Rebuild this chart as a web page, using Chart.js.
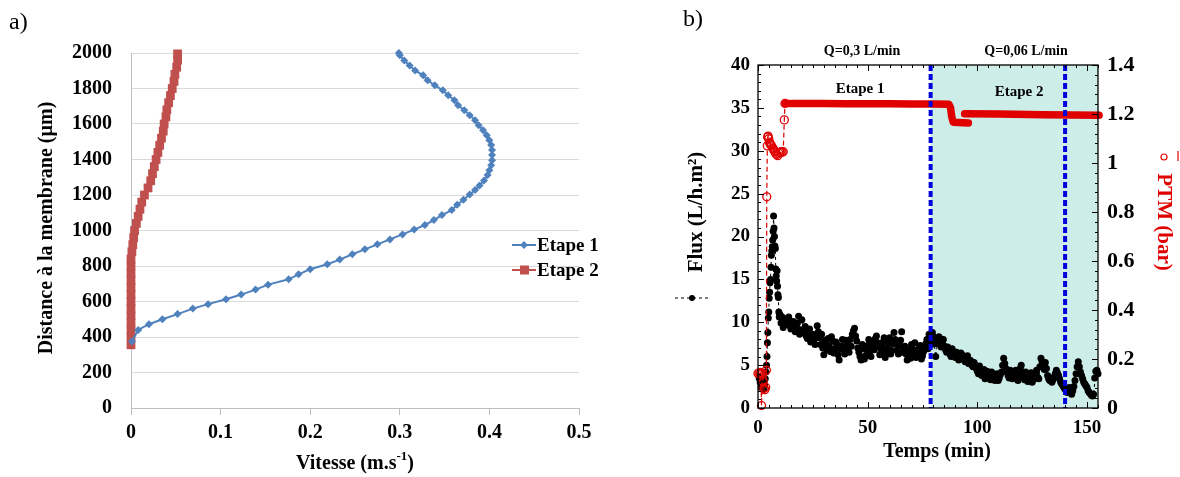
<!DOCTYPE html>
<html><head><meta charset="utf-8">
<script src="https://cdn.jsdelivr.net/npm/chart.js@4.4.1/dist/chart.umd.min.js"></script>
<style>
html,body{margin:0;padding:0;background:#fff;width:1180px;height:477px;overflow:hidden}
#ca{position:absolute;left:0;top:0}
#cb{position:absolute;left:660px;top:0}
</style></head><body>
<canvas id="ca" width="660" height="477"></canvas>
<canvas id="cb" width="520" height="477"></canvas>
<script>
// ---------- Panel a data ----------
const etape1Vitesse = [0.001,0.008,0.020,0.035,0.052,0.069,0.086,0.106,0.123,0.139,0.153,0.176,0.187,0.200,0.219,0.233,0.247,0.261,0.275,0.289,0.303,0.316,0.328,0.338,0.347,0.358,0.364,0.371,0.378,0.384,0.389,0.394,0.398,0.400,0.402,0.403,0.403,0.403,0.402,0.400,0.397,0.393,0.388,0.384,0.378,0.372,0.365,0.361,0.354,0.348,0.339,0.331,0.326,0.317,0.311,0.305,0.300,0.299];
const etape1Distance = [375,440,472,500,529,560,585,613,639,667,695,725,753,782,810,836,866,894,922,950,978,1005,1031,1059,1087,1115,1145,1173,1203,1228,1254,1282,1312,1340,1368,1396,1425,1453,1481,1509,1537,1565,1593,1621,1650,1678,1706,1734,1762,1790,1818,1846,1874,1902,1930,1958,1987,2000];
const etape2Vitesse = [0.000,0.000,0.000,0.000,0.000,0.000,0.000,0.000,0.000,0.000,0.000,0.000,0.000,0.001,0.002,0.003,0.004,0.006,0.008,0.010,0.012,0.015,0.019,0.022,0.024,0.026,0.028,0.030,0.032,0.034,0.036,0.037,0.039,0.040,0.042,0.044,0.046,0.048,0.049,0.051,0.052,0.052];
const etape2Distance = [356,400,440,480,520,560,600,640,680,720,760,800,840,880,920,960,1000,1040,1080,1120,1160,1200,1240,1280,1320,1360,1400,1440,1480,1520,1560,1600,1640,1680,1720,1760,1800,1840,1880,1920,1960,1995];
const aXTicks = [0,0.1,0.2,0.3,0.4,0.5];
const aYTicks = [0,200,400,600,800,1000,1200,1400,1600,1800,2000];

// ---------- Panel b data ----------
const fluxTime = [0.5,1.0,1.5,2.0,2.5,3.0,3.3,3.6,3.9,4.1,4.3,4.5,4.7,4.9,5.1,5.3,5.5,5.7,5.9,6.1,6.3,6.5,6.7,6.9,7.1,7.3,7.5,7.7,7.9,8.1,8.3,8.5,8.7,8.9,9.1,9.3,9.5,9.7,10.0,10.5,11.0,11.5,12.0,
13,14,15,16,17,18,19,20,21,22,23,24,25,26,27,28,29,30,31,32,33,34,35,36,37,38,39,40,41,42,43,44,45,46,47,48,49,50,51,52,53,54,55,56,57,58,59,60,61,62,63,64,65,66,67,68,69,70,71,72,73,74,75,76,77,78,79,80,81,82,83,84,85,86,87,88,89,90,91,92,93,94,95,96,97,98,99,100,101,102,103,104,105,106,107,108,109,110,111,112,113,114,115,116,117,118,119,120,121,122,123,124,125,126,127,128,129,130,131,132,133,134,135,136,137,138,139,140,141,142,143,144,145,146,147,148,149,150,151,152,153,154,155];
const fluxValue = [3.5,3.0,2.4,3.2,2.2,2.7,3.4,4.2,5.0,6.0,7.6,8.8,10.5,11.2,12.8,13.5,14.6,15.0,16.4,17.8,18.3,18.8,19.6,20.6,22.4,21.0,20.0,18.9,18.6,16.2,15.4,14.8,16.0,14.2,13.2,12.9,11.2,10.6,10.9,9.9,10.6,9.4,10.4,
9.8,10.6,9.2,10.1,8.9,9.9,8.6,10.3,9.0,8.4,8.8,7.7,8.6,7.4,9.6,8.2,8.6,6.2,7.5,8.1,6.6,7.8,6.9,7.4,5.6,7.2,6.8,7.9,7.0,8.0,8.6,9.3,7.8,6.5,5.6,6.9,6.1,7.3,6.6,7.6,6.8,8.4,7.1,6.4,7.7,5.9,7.0,8.2,6.7,8.8,7.4,6.3,7.9,6.5,7.2,5.6,6.2,7.4,6.8,5.9,6.6,7.3,6.1,7.0,8.0,8.6,7.4,8.3,6.0,7.9,8.1,7.6,7.2,6.5,6.8,6.0,6.6,5.9,6.3,5.8,6.2,5.6,5.9,5.2,5.5,4.8,5.0,4.3,4.9,3.8,4.5,3.6,4.1,3.3,3.8,3.2,4.0,3.5,4.2,5.8,4.6,3.8,4.4,3.4,4.1,3.5,4.0,5.0,3.6,4.2,3.1,3.8,3.0,3.7,4.4,3.4,5.8,4.9,5.3,3.8,3.2,3.0,3.6,4.4,3.8,3.0,2.6,2.2,1.8,2.4,1.6,2.5,4.0,5.4,4.2,3.4,2.8,2.4,1.8,1.5,1.6,4.3,4.0];
const fluxTimeB = [13.5,14.5,15.5,16.5,17.5,18.5,19.5,20.5,21.5,22.5,23.5,24.5,25.5,26.5,27.5,28.5,29.5,30.5,31.5,32.5,33.5,34.5,35.5,36.5,37.5,38.5,39.5,40.5,41.5,42.5,43.5,44.5,45.5,46.5,47.5,48.5,49.5,50.5,51.5,52.5,53.5,54.5,55.5,56.5,57.5,58.5,59.5,60.5,61.5,62.5,63.5,64.5,65.5,66.5,67.5,68.5,69.5,70.5,71.5,72.5,73.5,74.5,75.5,76.5,77.5,78.5,79.5,80.5,81.5,82.5,83.5,84.5,85.5,86.5,87.5,88.5,89.5,90.5,91.5,92.5,93.5,94.5,95.5,96.5,97.5,98.5,99.5,100.5,101.5,102.5,103.5,104.5,105.5,106.5,107.5,108.5,109.5,110.5,111.5,112.5,113.5,114.5,115.5,116.5,117.5,118.5,119.5,120.5,121.5,122.5,123.5,124.5,125.5,126.5,127.5,128.5,129.5,130.5,131.5,132.5,133.5,134.5,135.5,136.5,137.5,138.5,139.5,140.5,141.5,142.5,143.5,144.5,145.5,146.5,147.5,148.5,149.5,150.5,151.5,152.5,153.5,154.5];
const fluxValueB = [10.2,9.6,10.0,9.3,9.5,10.7,9.1,8.8,9.5,8.1,9.2,8.3,7.9,8.5,8.9,7.4,7.0,7.9,6.8,7.2,8.3,6.4,7.7,6.2,6.9,8.0,6.3,7.4,6.5,7.2,9.0,8.4,7.0,6.0,7.4,5.7,6.8,8.0,6.0,7.0,8.1,7.6,6.2,7.1,8.2,6.6,7.6,6.3,7.5,8.0,6.7,7.3,8.9,7.0,6.3,6.8,5.8,6.4,7.6,6.3,7.0,5.7,6.6,7.5,6.9,8.1,8.8,7.8,7.5,8.3,7.1,8.0,6.8,7.1,6.3,6.9,6.1,6.5,5.6,6.4,5.9,5.4,6.1,5.6,5.0,5.3,4.6,4.0,4.4,4.1,3.4,4.3,3.7,4.2,3.5,3.7,3.2,3.9,5.0,5.2,4.2,3.5,3.9,3.7,4.4,3.2,4.6,4.2,3.3,3.8,3.4,4.1,3.3,4.0,3.6,4.8,5.4,4.5,4.6,3.4,3.5,3.3,4.0,4.1,3.4,2.8,2.4,2.0,2.1,2.0,2.0,3.2,4.8,4.8,3.8,3.0,2.6,2.0,1.7,1.4,3.5,4.4];
const ptmTime = [0,0.5,1.0,1.3,1.6,2.0,2.4,2.7,3.1,3.5,3.8,4.0,4.25,4.4,4.6,4.9,5.2,5.5,5.8,6.2,6.6,7.0,7.4,7.8,8.2,8.6,9.0,9.5,10.0,10.5,11.0,11.5,12.0,12.3];
const ptmValue = [0.141,0.143,0.139,0.145,0.010,0.141,0.108,0.080,0.075,0.085,0.154,0.862,1.070,1.106,1.110,1.099,1.085,1.080,1.075,1.070,1.062,1.058,1.050,1.045,1.037,1.035,1.030,1.040,1.043,1.046,1.044,1.046,1.176,1.243];
const ptmBand1Time = [12.3,20,30,40,50,60,70,80,87,87.8,88.3,89,95.9];
const ptmBand1Value = [1.243,1.243,1.243,1.242,1.242,1.242,1.241,1.241,1.240,1.225,1.190,1.166,1.163];
const ptmBand2Time = [94.2,110,130,155.5];
const ptmBand2Value = [1.201,1.200,1.197,1.195];
const stageBounds = [78.7, 140.0];
const bXTicks = [0,50,100,150];

const SERIF = '"Liberation Serif","Times New Roman",serif';
const fmt = v => String(Math.round(v*100)/100);

// ---------- Panel a ----------
const aText = {
  id:'aText',
  afterDraw(chart){
    const ctx = chart.ctx;
    ctx.save();
    ctx.fillStyle = '#000';
    ctx.font = '24px ' + SERIF;
    ctx.textBaseline = 'middle'; ctx.textAlign = 'left';
    ctx.fillText('a)', 9, 23);
    ctx.font = 'bold 20px ' + SERIF;
    ctx.save(); ctx.translate(47, 228); ctx.rotate(-Math.PI/2);
    ctx.textAlign = 'center'; ctx.fillText('Distance à la membrane (µm)', 0, 0); ctx.restore();
    const big = 'bold 20px ' + SERIF, small = 'bold 13px ' + SERIF;
    ctx.font = big; const w1 = ctx.measureText('Vitesse (m.s').width; const w3 = ctx.measureText(')').width;
    ctx.font = small; const w2 = ctx.measureText('-1').width;
    let x = 355 - (w1+w2+w3)/2, y = 464;
    ctx.textAlign = 'left';
    ctx.font = big; ctx.fillText('Vitesse (m.s', x, y);
    ctx.font = small; ctx.fillText('-1', x + w1, y - 7);
    ctx.font = big; ctx.fillText(')', x + w1 + w2, y);
    const items = [['Etape 1','#4f81bd','rectRot',245],['Etape 2','#c0504d','rect',270]];
    items.forEach(([t,c,s,yy])=>{
      ctx.strokeStyle = c; ctx.lineWidth = 2;
      ctx.beginPath(); ctx.moveTo(512, yy); ctx.lineTo(536, yy); ctx.stroke();
      ctx.fillStyle = c;
      if (s === 'rect') ctx.fillRect(520, yy-4.5, 9, 9);
      else { ctx.beginPath(); ctx.moveTo(524, yy-4); ctx.lineTo(528, yy); ctx.lineTo(524, yy+4); ctx.lineTo(520, yy); ctx.closePath(); ctx.fill(); }
      ctx.fillStyle = '#000'; ctx.font = 'bold 19px ' + SERIF;
      ctx.textAlign = 'left'; ctx.fillText(t, 537, yy+1);
    });
    ctx.restore();
  }
};

new Chart(document.getElementById('ca'), {
  type: 'scatter',
  data: { datasets: [
    { label:'Etape 1', data: etape1Vitesse.map((v,i)=>({x:v, y:etape1Distance[i]})), showLine:true,
      borderColor:'#4f81bd', backgroundColor:'#4f81bd', borderWidth:2, pointStyle:'rectRot', pointRadius:4, pointBorderWidth:0, clip:false },
    { label:'Etape 2', data: etape2Vitesse.map((v,i)=>({x:v, y:etape2Distance[i]})), showLine:true,
      borderColor:'#c0504d', backgroundColor:'#c0504d', borderWidth:2, pointStyle:'rect', pointRadius:6.2, pointBorderWidth:0, clip:false }
  ]},
  options: {
    responsive:false, animation:false, devicePixelRatio:1,
    layout:{ padding:{ top:53, right:81, bottom:0, left:0 } },
    plugins:{ legend:{display:false}, tooltip:{enabled:false} },
    scales:{
      x:{ type:'linear', min:0, max:0.5,
        afterBuildTicks(s){ s.ticks = aXTicks.map(v=>({value:v})); },
        ticks:{ font:{family:SERIF, size:20, weight:'bold'}, color:'#000', padding:6, callback:fmt, maxRotation:0 },
        grid:{ drawOnChartArea:false, drawTicks:true, tickLength:7, color:'#bfbfbf', lineWidth:1 },
        border:{ display:true, color:'#bfbfbf', width:1 },
        afterFit(s){ s.height = 69; } },
      y:{ type:'linear', min:0, max:2000,
        afterBuildTicks(s){ s.ticks = aYTicks.map(v=>({value:v})); },
        ticks:{ font:{family:SERIF, size:20, weight:'bold'}, color:'#000', padding:19, callback:fmt },
        grid:{ color:'#d9d9d9', lineWidth:1, drawTicks:false },
        border:{ display:true, color:'#bfbfbf', width:1 },
        afterFit(s){ s.width = 131; } }
    }
  },
  plugins:[aText]
});

// ---------- Panel b ----------
const bDeco = {
  id:'bDeco',
  beforeDatasetsDraw(chart){
    const {ctx, chartArea:a, scales} = chart;
    const x0 = scales.x.getPixelForValue(stageBounds[0]);
    ctx.save(); ctx.fillStyle = '#cdede9';
    ctx.fillRect(x0, a.top, a.right - x0, a.bottom - a.top); ctx.restore();
  },
  afterDatasetsDraw(chart){
    const {ctx, chartArea:a, scales} = chart;
    ctx.save();
    ctx.strokeStyle = '#0000dd'; ctx.lineWidth = 4; ctx.setLineDash([6,3]);
    stageBounds.forEach(t=>{
      const x = scales.x.getPixelForValue(t);
      ctx.beginPath(); ctx.moveTo(x, a.top); ctx.lineTo(x, a.bottom); ctx.stroke();
    });
    ctx.setLineDash([]);
    ctx.strokeStyle = '#000'; ctx.lineWidth = 1.3;
    ctx.strokeRect(a.left, a.top, a.right - a.left, a.bottom - a.top);
    ctx.lineWidth = 1;
    ctx.beginPath();
    for (let i = 0; i <= 31; i++) {
      const x = Math.round(scales.x.getPixelForValue(i*5)) + 0.5;
      const L = (i % 10 === 0) ? 6 : 3;
      ctx.moveTo(x, a.bottom); ctx.lineTo(x, a.bottom - L);
      ctx.moveTo(x, a.top); ctx.lineTo(x, a.top + L);
    }
    for (let i = 0; i <= 40; i++) {
      const y = Math.round(scales.y.getPixelForValue(i)) + 0.5;
      const L = (i % 5 === 0) ? 6 : 3;
      ctx.moveTo(a.left, y); ctx.lineTo(a.left + L, y);
    }
    for (let i = 0; i <= 35; i++) {
      const y = Math.round(scales.y1.getPixelForValue(i*0.04)) + 0.5;
      const L = (i % 5 === 0) ? 6 : 3;
      ctx.moveTo(a.right, y); ctx.lineTo(a.right - L, y);
    }
    ctx.stroke();
    ctx.restore();
  },
  afterDraw(chart){
    const ctx = chart.ctx;
    ctx.save();
    ctx.fillStyle = '#000'; ctx.textBaseline = 'middle';
    ctx.font = '24px ' + SERIF; ctx.textAlign = 'left';
    ctx.fillText('b)', 23, 20);
    ctx.textAlign = 'center';
    ctx.font = 'bold 14px ' + SERIF;
    ctx.fillText('Q=0,3 L/min', 202, 51);
    ctx.fillText('Q=0,06 L/min', 366, 51);
    ctx.font = 'bold 15px ' + SERIF;
    ctx.fillText('Etape 1', 200, 89);
    ctx.fillText('Etape 2', 359, 92);
    ctx.font = 'bold 20px ' + SERIF;
    ctx.fillText('Temps (min)', 277, 452);
    ctx.font = 'bold 21px ' + SERIF;
    ctx.save(); ctx.translate(37, 212); ctx.rotate(-Math.PI/2);
    ctx.fillText('Flux (L/h.m²)', 0, 0); ctx.restore();
    ctx.strokeStyle = '#000'; ctx.lineWidth = 1; ctx.setLineDash([3,3]);
    ctx.beginPath(); ctx.moveTo(15, 298); ctx.lineTo(50, 298); ctx.stroke(); ctx.setLineDash([]);
    ctx.beginPath(); ctx.arc(32, 298, 3, 0, Math.PI*2); ctx.fill();
    ctx.fillStyle = '#e00000'; ctx.font = 'bold 21px ' + SERIF;
    ctx.save(); ctx.translate(503, 222); ctx.rotate(Math.PI/2);
    ctx.fillText('PTM (bar)', 0, 0); ctx.restore();
    ctx.strokeStyle = '#e00000'; ctx.lineWidth = 1.2;
    ctx.beginPath(); ctx.arc(504, 157, 3, 0, Math.PI*2); ctx.stroke();
    ctx.beginPath(); ctx.moveTo(518, 151); ctx.lineTo(518, 161); ctx.stroke();
    ctx.restore();
  }
};

new Chart(document.getElementById('cb'), {
  type: 'scatter',
  data: { datasets: [
    { label:'PTM', data: ptmTime.map((t,i)=>({x:t, y:ptmValue[i]})), yAxisID:'y1', showLine:true,
      borderColor:'#e00000', borderWidth:1.2, borderDash:[5,3], pointStyle:'circle', pointRadius:4,
      pointBorderWidth:1.3, pointBorderColor:'#e00000', pointBackgroundColor:'rgba(255,255,255,0)', clip:false },
    { label:'PTM band 1', data: ptmBand1Time.map((t,i)=>({x:t, y:ptmBand1Value[i]})), yAxisID:'y1', showLine:true,
      borderColor:'#e00000', borderWidth:7.5, pointRadius:0, borderCapStyle:'round', borderJoinStyle:'round', clip:false },
    { label:'PTM band 2', data: ptmBand2Time.map((t,i)=>({x:t, y:ptmBand2Value[i]})), yAxisID:'y1', showLine:true,
      borderColor:'#e00000', borderWidth:7.5, pointRadius:0, borderCapStyle:'round', borderJoinStyle:'round', clip:false },
    { label:'Flux', data: fluxTime.map((t,i)=>({x:t, y:fluxValue[i]})), yAxisID:'y', showLine:true,
      borderColor:'#000', borderWidth:1, borderDash:[3,3], pointStyle:'circle', pointRadius:3.5,
      pointBorderWidth:0, pointBackgroundColor:'#000', clip:false },
    { label:'Flux b', data: fluxTimeB.map((t,i)=>({x:t, y:fluxValueB[i]})), yAxisID:'y', showLine:false,
      pointStyle:'circle', pointRadius:3.5, pointBorderWidth:0, pointBackgroundColor:'#000', clip:false }
  ]},
  options: {
    responsive:false, animation:false, devicePixelRatio:1,
    layout:{ padding:{ top:65, right:0, bottom:0, left:0 } },
    plugins:{ legend:{display:false}, tooltip:{enabled:false} },
    scales:{
      x:{ type:'linear', min:0, max:155,
        afterBuildTicks(s){ s.ticks = bXTicks.map(v=>({value:v})); },
        ticks:{ font:{family:SERIF, size:19, weight:'bold'}, color:'#000', padding:9, maxRotation:0 },
        grid:{ display:false, drawTicks:false }, border:{ display:false },
        afterFit(s){ s.height = 69; } },
      y:{ type:'linear', position:'left', min:0, max:40,
        ticks:{ stepSize:5, font:{family:SERIF, size:19, weight:'bold'}, color:'#000', padding:8, callback:fmt },
        grid:{ display:false, drawTicks:false }, border:{ display:false },
        afterFit(s){ s.width = 98; } },
      y1:{ type:'linear', position:'right', min:0, max:1.4,
        ticks:{ stepSize:0.2, font:{family:SERIF, size:22, weight:'bold'}, color:'#000', padding:9, callback:fmt },
        grid:{ display:false, drawTicks:false }, border:{ display:false },
        afterFit(s){ s.width = 82; } }
    }
  },
  plugins:[bDeco]
});
</script></body></html>
